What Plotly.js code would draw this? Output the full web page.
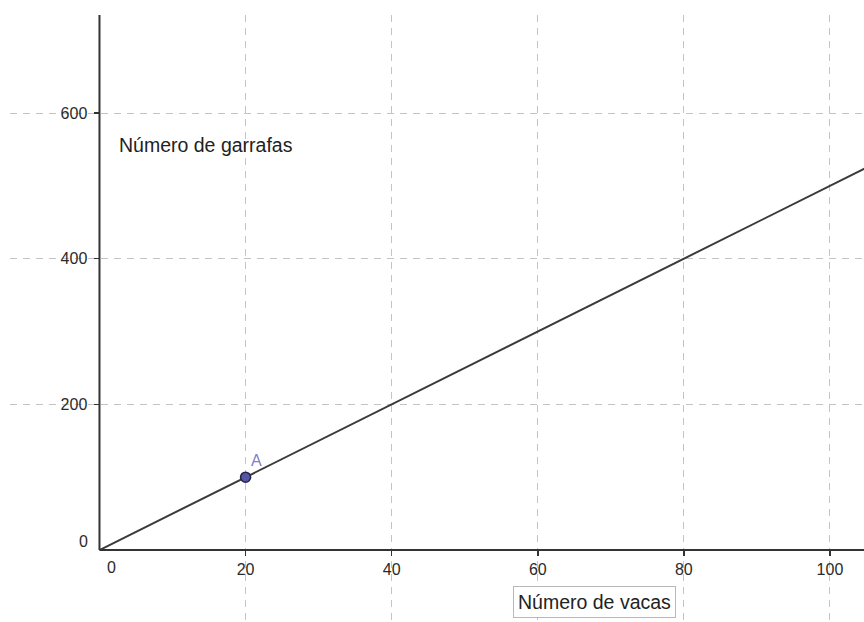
<!DOCTYPE html>
<html>
<head>
<meta charset="utf-8">
<script src="https://cdn.plot.ly/plotly-3.0.1.min.js"></script>
<style>html,body{margin:0;padding:0;background:#fff;}#chart{width:864px;height:622px;}</style>
</head>
<body>
<div id="chart"></div>
<script>
// Data
const lineX = [0, 105];
const lineY = [0, 525];
const pointX = [20];
const pointY = [100];
const pointLabel = ['A'];
const xTicks = [20, 40, 60, 80, 100];
const xTickText = ['20', '40', '60', '80', '100'];
const yTicks = [200, 400, 600];
const yTickText = ['200', '400', '600'];
const xTitle = 'Número de vacas';
const yTitle = 'Número de garrafas';

const xRange = [-12.25, 104.66];
const yRange = [-98.8, 734.6];
const FONT = 'Liberation Sans, Arial, sans-serif';
const DARK = '#2a2a2a';

const traces = [
  {x: lineX, y: lineY, type: 'scatter', mode: 'lines',
   line: {color: '#3a3a3a', width: 2}, hoverinfo: 'skip', showlegend: false},
  {x: pointX, y: pointY, type: 'scatter', mode: 'markers',
   marker: {size: 10, color: '#5656a6', line: {color: '#26264a', width: 1.6}},
   showlegend: false}
];

const layout = {
  width: 864, height: 622,
  margin: {l: 10, r: 0, t: 15, b: 0, pad: 0},
  paper_bgcolor: '#ffffff', plot_bgcolor: '#ffffff',
  showlegend: false,
  font: {family: FONT, color: DARK},
  xaxis: {
    range: xRange, fixedrange: true,
    anchor: 'free', position: (0 - yRange[0]) / (yRange[1] - yRange[0]),
    showline: false, zeroline: false,
    tickmode: 'array', tickvals: xTicks, ticktext: xTickText,
    ticks: 'outside', ticklen: 5, tickwidth: 1.5, tickcolor: '#333333',
    tickfont: {family: FONT, size: 16, color: DARK},
    showgrid: true, gridcolor: '#c4c4c4', gridwidth: 1, griddash: '7px,6px'
  },
  yaxis: {
    range: yRange, fixedrange: true,
    anchor: 'free', position: (0 - xRange[0]) / (xRange[1] - xRange[0]),
    showline: false, zeroline: false,
    tickmode: 'array', tickvals: yTicks, ticktext: yTickText,
    ticks: 'outside', ticklen: 5, tickwidth: 1.5, tickcolor: '#333333',
    ticklabelstandoff: 4,
    tickfont: {family: FONT, size: 16, color: DARK},
    showgrid: true, gridcolor: '#c4c4c4', gridwidth: 1, griddash: '7px,6px'
  },
  shapes: [
    {type: 'line', xref: 'x', yref: 'y', x0: 0, x1: 0, y0: 0, y1: yRange[1],
     line: {color: '#333333', width: 2}},
    {type: 'line', xref: 'x', yref: 'y', x0: 0, x1: xRange[1], y0: 0, y1: 0,
     line: {color: '#333333', width: 2}}
  ],
  annotations: [
    {xref: 'x', yref: 'y', x: 0, y: 0, xshift: 12, yshift: -17, text: '0',
     showarrow: false, font: {family: FONT, size: 16, color: DARK}},
    {xref: 'x', yref: 'y', x: 0, y: 0, xshift: -16, yshift: 9, text: '0',
     showarrow: false, font: {family: FONT, size: 16, color: DARK}},
    {xref: 'x', yref: 'y', x: 2.45, y: 556, xanchor: 'left', yanchor: 'middle',
     text: yTitle, showarrow: false, font: {family: FONT, size: 19.5, color: '#222222'}},
    {xref: 'x', yref: 'y', x: 67.8, y: -49.5, xanchor: 'center', yanchor: 'top',
     text: xTitle, showarrow: false, bgcolor: '#ffffff',
     bordercolor: '#b8b8b8', borderwidth: 1, borderpad: 4,
     font: {family: FONT, size: 19.5, color: '#222222'}},
    {xref: 'x', yref: 'y', x: pointX[0], y: pointY[0], xshift: 11, yshift: 17,
     text: pointLabel[0], showarrow: false, font: {family: FONT, size: 16, color: '#8080c8'}}
  ]
};

Plotly.newPlot('chart', traces, layout, {displayModeBar: false, staticPlot: true});
</script>
</body>
</html>
